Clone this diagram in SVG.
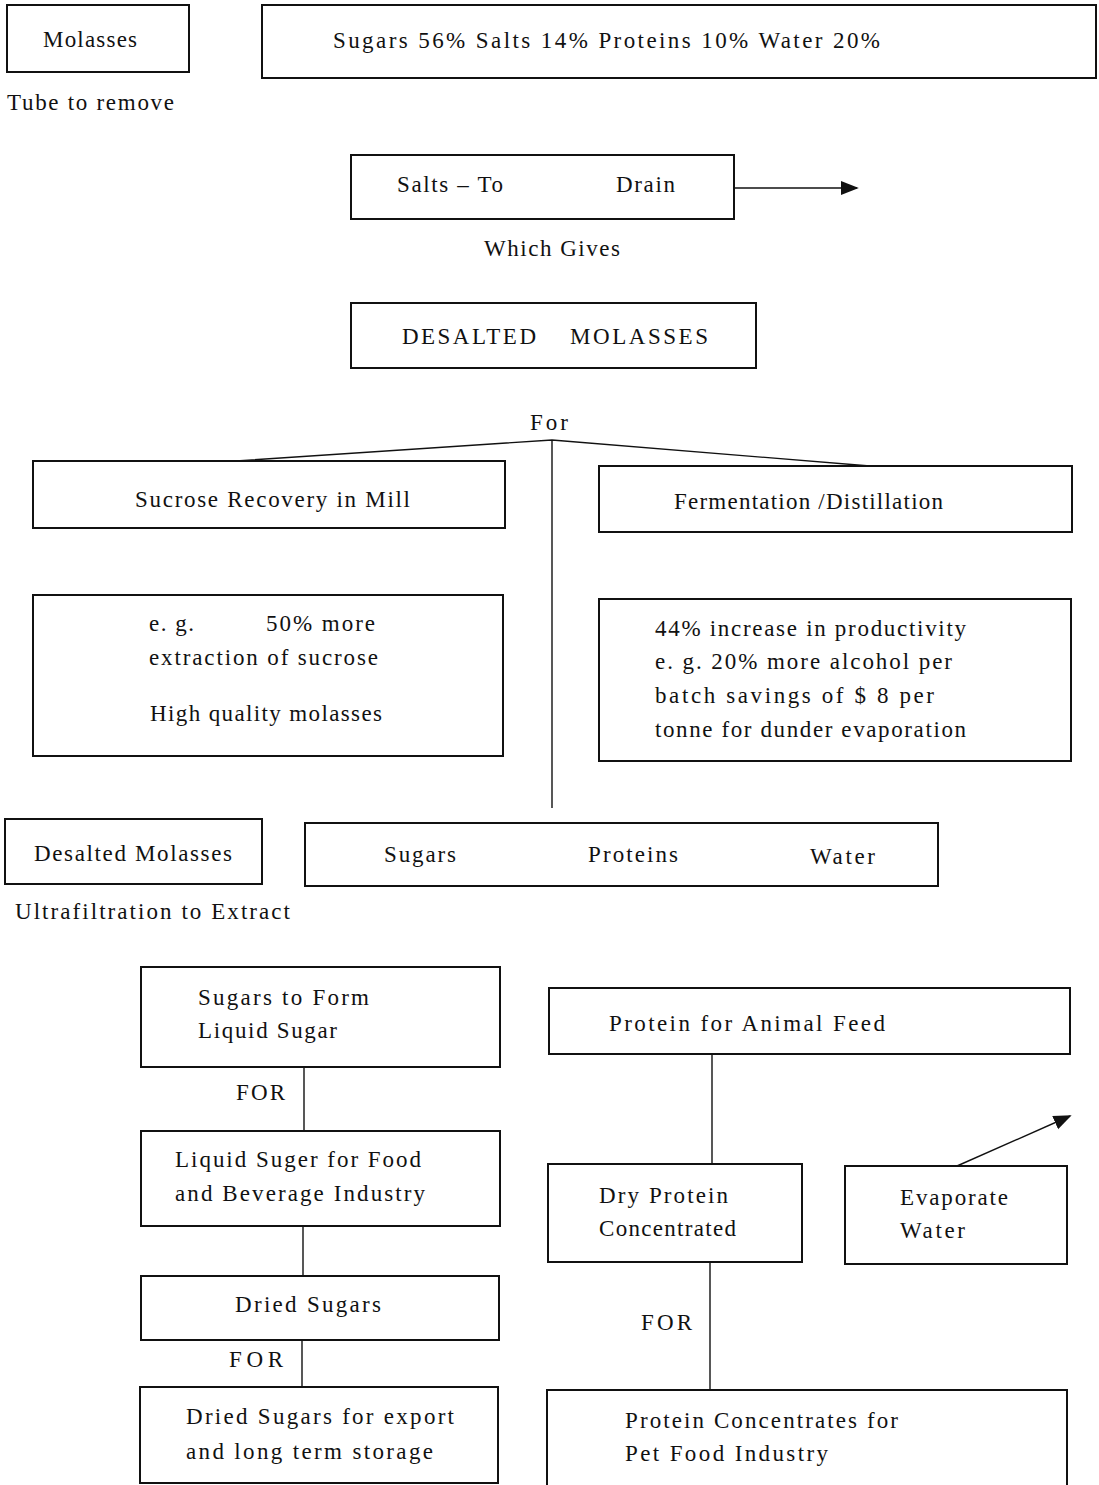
<svg xmlns="http://www.w3.org/2000/svg" width="1099" height="1485" viewBox="0 0 1099 1485">
<style>
.box{fill:#fff;stroke:#111;stroke-width:2}
.t{font-family:"Liberation Serif","Times New Roman",serif;font-size:23px;fill:#111}
.c{fill:none;stroke:#111;stroke-width:1.4}
</style>
<defs>
<marker id="ah2" viewBox="0 0 10 10" refX="9" refY="5" markerWidth="18" markerHeight="18" markerUnits="userSpaceOnUse" orient="auto"><path d="M0,1 L10,5 L0,9 Z" fill="#111"/></marker>
</defs>
<rect width="1099" height="1485" fill="#fff"/>

<g id="connectors">
<line class="c" x1="734" y1="188" x2="857" y2="188" marker-end="url(#ah2)"/>
<polyline class="c" points="220,462 552,440 870,466"/>
<line class="c" x1="552" y1="440" x2="552" y2="808"/>
<line class="c" x1="304" y1="1067" x2="304" y2="1131"/>
<line class="c" x1="303" y1="1226" x2="303" y2="1276"/>
<line class="c" x1="302" y1="1340" x2="302" y2="1387"/>
<line class="c" x1="712" y1="1054" x2="712" y2="1164"/>
<line class="c" x1="957" y1="1166" x2="1070" y2="1116" marker-end="url(#ah2)"/>
<line class="c" x1="710" y1="1262" x2="710" y2="1390"/>
</g>

<g id="molasses"><rect class="box" x="7" y="5" width="182" height="67"/><text class="t" x="43" y="47" textLength="94" lengthAdjust="spacing">Molasses</text></g>
<g id="composition"><rect class="box" x="262" y="5" width="834" height="73"/><text class="t" x="333" y="48" textLength="547" lengthAdjust="spacing">Sugars 56% Salts 14% Proteins 10% Water 20%</text></g>
<g id="label-tube"><text class="t" x="7" y="110" textLength="167" lengthAdjust="spacing">Tube to remove</text></g>
<g id="salts"><rect class="box" x="351" y="155" width="383" height="64"/><text class="t" x="397" y="192" textLength="106" lengthAdjust="spacing">Salts – To</text><text class="t" x="616" y="192" textLength="59" lengthAdjust="spacing">Drain</text></g>
<g id="label-gives"><text class="t" x="484" y="256" textLength="136" lengthAdjust="spacing">Which Gives</text></g>
<g id="desalted"><rect class="box" x="351" y="303" width="405" height="65"/><text class="t" x="402" y="344" textLength="134" lengthAdjust="spacing">DESALTED</text><text class="t" x="570" y="344" textLength="138" lengthAdjust="spacing">MOLASSES</text></g>
<g id="label-for"><text class="t" x="530" y="430" textLength="38" lengthAdjust="spacing">For</text></g>
<g id="sucrose"><rect class="box" x="33" y="461" width="472" height="67"/><text class="t" x="135" y="507" textLength="275" lengthAdjust="spacing">Sucrose Recovery in Mill</text></g>
<g id="fermentation"><rect class="box" x="599" y="466" width="473" height="66"/><text class="t" x="674" y="509" textLength="269" lengthAdjust="spacing">Fermentation /Distillation</text></g>
<g id="sucrose-benefits"><rect class="box" x="33" y="595" width="470" height="161"/>
<text class="t" x="149" y="631" textLength="45" lengthAdjust="spacing">e. g.</text>
<text class="t" x="266" y="631" textLength="109" lengthAdjust="spacing">50% more</text>
<text class="t" x="149" y="665" textLength="229" lengthAdjust="spacing">extraction of sucrose</text>
<text class="t" x="150" y="721" textLength="232" lengthAdjust="spacing">High quality molasses</text></g>
<g id="fermentation-benefits"><rect class="box" x="599" y="599" width="472" height="162"/>
<text class="t" x="655" y="636" textLength="311" lengthAdjust="spacing">44% increase in productivity</text>
<text class="t" x="655" y="669" textLength="297" lengthAdjust="spacing">e. g. 20% more alcohol per</text>
<text class="t" x="655" y="703" textLength="279" lengthAdjust="spacing">batch savings of $ 8 per</text>
<text class="t" x="655" y="737" textLength="311" lengthAdjust="spacing">tonne for dunder evaporation</text></g>
<g id="desalted2"><rect class="box" x="5" y="819" width="257" height="65"/><text class="t" x="34" y="861" textLength="198" lengthAdjust="spacing">Desalted Molasses</text></g>
<g id="components"><rect class="box" x="305" y="823" width="633" height="63"/>
<text class="t" x="384" y="862" textLength="72" lengthAdjust="spacing">Sugars</text>
<text class="t" x="588" y="862" textLength="90" lengthAdjust="spacing">Proteins</text>
<text class="t" x="810" y="864" textLength="65" lengthAdjust="spacing">Water</text></g>
<g id="label-ultra"><text class="t" x="15" y="919" textLength="275" lengthAdjust="spacing">Ultrafiltration to Extract</text></g>
<g id="liquid-sugar"><rect class="box" x="141" y="967" width="359" height="100"/>
<text class="t" x="198" y="1005" textLength="171" lengthAdjust="spacing">Sugars to Form</text>
<text class="t" x="198" y="1038" textLength="139" lengthAdjust="spacing">Liquid Sugar</text></g>
<g id="label-for1"><text class="t" x="236" y="1100" textLength="49" lengthAdjust="spacing">FOR</text></g>
<g id="food-beverage"><rect class="box" x="141" y="1131" width="359" height="95"/>
<text class="t" x="175" y="1167" textLength="246" lengthAdjust="spacing">Liquid Suger for Food</text>
<text class="t" x="175" y="1201" textLength="250" lengthAdjust="spacing">and Beverage Industry</text></g>
<g id="dried-sugars"><rect class="box" x="141" y="1276" width="358" height="64"/>
<text class="t" x="235" y="1312" textLength="146" lengthAdjust="spacing">Dried Sugars</text></g>
<g id="label-for2"><text class="t" x="229" y="1367" textLength="54" lengthAdjust="spacing">FOR</text></g>
<g id="export"><rect class="box" x="140" y="1387" width="358" height="96"/>
<text class="t" x="186" y="1424" textLength="268" lengthAdjust="spacing">Dried Sugars for export</text>
<text class="t" x="186" y="1459" textLength="247" lengthAdjust="spacing">and long term storage</text></g>
<g id="animal-feed"><rect class="box" x="549" y="988" width="521" height="66"/>
<text class="t" x="609" y="1031" textLength="276" lengthAdjust="spacing">Protein for Animal Feed</text></g>
<g id="dry-protein"><rect class="box" x="548" y="1164" width="254" height="98"/>
<text class="t" x="599" y="1203" textLength="129" lengthAdjust="spacing">Dry Protein</text>
<text class="t" x="599" y="1236" textLength="137" lengthAdjust="spacing">Concentrated</text></g>
<g id="evaporate"><rect class="box" x="845" y="1166" width="222" height="98"/>
<text class="t" x="900" y="1205" textLength="108" lengthAdjust="spacing">Evaporate</text>
<text class="t" x="900" y="1238" textLength="65" lengthAdjust="spacing">Water</text></g>
<g id="label-for3"><text class="t" x="641" y="1330" textLength="51" lengthAdjust="spacing">FOR</text></g>
<g id="pet-food"><rect class="box" x="547" y="1390" width="520" height="100"/>
<text class="t" x="625" y="1428" textLength="273" lengthAdjust="spacing">Protein Concentrates for</text>
<text class="t" x="625" y="1461" textLength="203" lengthAdjust="spacing">Pet Food Industry</text></g>
</svg>
